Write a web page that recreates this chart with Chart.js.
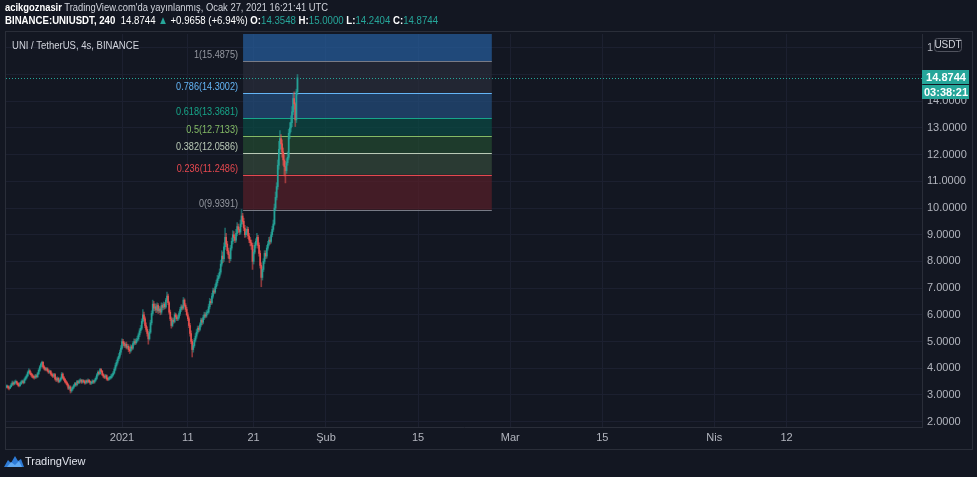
<!DOCTYPE html>
<html><head><meta charset="utf-8">
<script src="https://cdn.jsdelivr.net/npm/chart.js@4.4.1/dist/chart.umd.min.js"></script>
<style>
html,body{margin:0;padding:0;background:#131722;width:977px;height:477px;overflow:hidden;font-family:"Liberation Sans",Arial,sans-serif;}
#c{position:absolute;left:0;top:0;}
.t{position:absolute;white-space:nowrap;color:#d1d4dc;transform-origin:0 0;}
.g{color:#26a69a;}
.w{color:#ffffff;font-weight:bold;}
</style></head><body>
<canvas id="c" width="977" height="477"></canvas>
<div class="t" id="h1" style="left:5px;top:1px;font-size:11.5px;"></div>
<div class="t" id="h2" style="left:5px;top:14px;font-size:11.5px;"></div>
<div class="t" id="title" style="left:12px;top:39px;font-size:11.5px;"></div>
<div class="t" style="left:4px;top:455px;font-size:11px;">
<svg width="20" height="12" viewBox="0 0 20 12" style="vertical-align:-2px"><path d="M0 12 L4 5 L7 8 L11 1 L14 6 L17 4 L20 12 Z" fill="#2e7bd6"/><path d="M3 12 L7 7 L11 10 L15 6 L18 12 Z" fill="#5fa8f0"/></svg><span style="margin-left:1px;color:#e0e3eb">TradingView</span></div>
<script>
// ---- data ----
const chartTitle = 'UNI / TetherUS, 4s, BINANCE';
const author = 'acikgoznasir';
const publishText = "TradingView.com'da yayınlanmış, Ocak 27, 2021 16:21:41 UTC";
const symbolText = 'BINANCE:UNIUSDT, 240';
const changeText = '+0.9658 (+6.94%)';
const countdownText = '03:38:21';
const currencyText = 'USDT';

// candle times: days relative to 2021-01-01 00:00, first candle 2020-12-14 08:00, 4h candles
const candleStartDay = -17 - 2/3;
const candleStepDay = 4/24;
const firstOpen = 3.28;
const closes = [
3.30,3.33,3.28,3.25,3.31,3.38,3.45,3.41,3.47,3.50,3.44,3.39,
3.35,3.42,3.48,3.50,3.46,3.58,3.65,3.72,3.84,3.90,3.81,3.76,
3.70,3.66,3.65,3.71,3.68,3.80,3.92,4.05,4.15,4.22,4.05,4.00,
3.95,3.98,3.90,3.85,3.88,3.78,3.74,3.70,3.76,3.60,3.56,3.62,
3.50,3.55,3.62,3.78,3.65,3.58,3.50,3.45,3.38,3.25,3.30,3.15,
3.22,3.28,3.35,3.42,3.38,3.50,3.46,3.52,3.55,3.48,3.53,3.50,
3.45,3.52,3.49,3.55,3.50,3.44,3.45,3.52,3.48,3.55,3.62,3.75,
3.85,3.80,3.95,3.88,3.76,3.70,3.66,3.72,3.60,3.58,3.63,3.65,
3.70,3.75,3.82,3.96,4.10,4.22,4.35,4.45,4.60,4.75,5.00,4.94,
4.85,4.90,4.78,4.82,4.70,4.65,4.80,4.75,4.92,5.00,4.95,5.05,
5.10,5.25,5.40,5.50,5.75,6.00,5.85,5.60,5.45,5.30,5.10,5.35,
5.70,6.05,6.40,6.25,6.30,6.18,6.35,6.15,6.22,6.10,6.35,6.28,
6.40,6.30,6.55,6.70,6.45,6.10,5.85,5.60,5.80,5.75,6.00,5.92,
5.85,5.90,6.05,6.20,6.30,6.25,6.55,6.35,6.20,6.00,5.85,5.60,
5.30,5.00,4.70,4.85,5.05,5.20,5.35,5.50,5.45,5.62,5.80,5.72,
5.90,6.00,5.95,6.08,6.10,6.30,6.50,6.45,6.70,6.90,6.85,7.05,
7.20,7.35,7.45,7.60,7.90,8.20,8.10,8.55,8.90,8.65,8.40,8.25,
8.10,8.50,8.75,9.00,8.90,8.80,9.05,9.30,9.20,9.10,9.40,9.70,
9.50,9.25,9.00,9.10,9.20,8.95,8.80,8.70,8.60,8.00,8.35,8.60,
8.75,8.90,8.60,8.30,7.85,7.40,7.70,8.00,8.30,8.20,8.50,8.65,
8.80,8.75,9.00,9.20,9.40,10.00,10.40,10.80,11.60,12.20,12.60,12.40,
12.10,11.80,11.55,11.40,11.70,11.90,12.80,13.00,13.20,13.60,14.10,13.90,
13.30,14.3548,14.8744];
const highs = [
3.36,3.38,3.35,3.31,3.36,3.44,3.52,3.49,3.53,3.56,3.52,3.46,
3.44,3.47,3.53,3.56,3.55,3.63,3.70,3.78,3.90,3.98,3.94,3.86,
3.80,3.75,3.72,3.77,3.76,3.85,3.98,4.10,4.20,4.27,4.25,4.10,
4.04,4.03,4.02,3.95,3.93,3.92,3.83,3.79,3.81,3.80,3.66,3.68,
3.66,3.59,3.67,3.84,3.82,3.70,3.62,3.55,3.49,3.42,3.35,3.34,
3.27,3.33,3.40,3.47,3.46,3.55,3.54,3.57,3.61,3.58,3.58,3.57,
3.54,3.56,3.56,3.60,3.58,3.53,3.50,3.57,3.55,3.60,3.68,3.80,
3.90,3.89,4.00,3.99,3.92,3.80,3.75,3.77,3.75,3.65,3.68,3.70,
3.76,3.80,3.88,4.02,4.18,4.30,4.42,4.55,4.68,4.85,5.10,5.08,
5.00,4.96,4.98,4.90,4.88,4.78,4.88,4.86,5.00,5.10,5.08,5.12,
5.20,5.32,5.48,5.60,5.85,6.20,6.10,5.92,5.70,5.55,5.38,5.45,
5.80,6.15,6.55,6.50,6.42,6.40,6.45,6.42,6.32,6.30,6.45,6.42,
6.48,6.46,6.62,6.85,6.78,6.50,6.18,5.92,5.88,5.88,6.08,6.06,
6.00,5.98,6.12,6.28,6.38,6.36,6.65,6.60,6.42,6.28,6.08,5.92,
5.68,5.40,5.08,4.95,5.12,5.30,5.45,5.58,5.58,5.70,5.88,5.86,
5.98,6.10,6.08,6.16,6.20,6.40,6.62,6.58,6.80,7.00,6.98,7.15,
7.30,7.48,7.55,7.72,8.05,8.40,8.35,8.70,9.25,9.05,8.75,8.50,
8.35,8.60,8.88,9.15,9.12,9.00,9.20,9.45,9.40,9.28,9.55,9.94,
9.80,9.62,9.35,9.20,9.30,9.28,9.05,8.90,8.80,8.68,8.45,8.70,
8.85,9.05,8.98,8.70,8.40,7.95,7.80,8.10,8.40,8.40,8.60,8.75,
8.90,8.92,9.10,9.32,9.55,10.15,10.60,10.95,11.80,12.50,12.90,12.75,
12.55,12.25,12.00,11.75,11.85,12.10,12.95,13.20,13.45,13.80,14.30,14.35,
13.95,14.45,15.00];
const lows = [
3.24,3.27,3.22,3.19,3.23,3.29,3.35,3.36,3.38,3.43,3.38,3.33,
3.30,3.32,3.38,3.44,3.41,3.43,3.54,3.60,3.68,3.79,3.77,3.70,
3.65,3.62,3.59,3.61,3.63,3.65,3.76,3.88,4.00,4.08,4.00,3.94,
3.90,3.91,3.86,3.80,3.81,3.73,3.69,3.65,3.66,3.55,3.50,3.52,
3.45,3.46,3.51,3.58,3.60,3.53,3.45,3.40,3.33,3.20,3.21,3.07,
3.10,3.17,3.24,3.31,3.33,3.34,3.41,3.42,3.47,3.43,3.44,3.45,
3.40,3.41,3.44,3.45,3.46,3.39,3.39,3.42,3.43,3.44,3.51,3.58,
3.70,3.75,3.77,3.84,3.72,3.65,3.61,3.62,3.55,3.53,3.54,3.58,
3.60,3.64,3.70,3.78,3.90,4.04,4.15,4.28,4.38,4.52,4.70,4.85,
4.78,4.78,4.72,4.72,4.62,4.55,4.60,4.68,4.70,4.86,4.88,4.90,
4.98,5.04,5.18,5.32,5.44,5.68,5.78,5.52,5.38,5.20,4.90,5.05,
5.30,5.62,5.98,6.15,6.15,6.08,6.10,6.05,6.08,6.00,6.02,6.18,
6.20,6.22,6.25,6.48,6.38,6.02,5.78,5.50,5.55,5.68,5.70,5.85,
5.78,5.78,5.84,5.98,6.12,6.18,6.20,6.30,6.12,5.95,5.78,5.52,
5.20,4.92,4.42,4.60,4.78,4.98,5.12,5.28,5.36,5.40,5.55,5.62,
5.66,5.82,5.88,5.90,6.00,6.05,6.22,6.38,6.40,6.62,6.78,6.80,
6.98,7.10,7.28,7.38,7.52,7.82,7.95,8.00,8.45,8.55,8.30,8.12,
7.95,8.02,8.42,8.65,8.78,8.70,8.72,8.95,9.08,9.00,9.02,9.30,
9.40,9.15,8.90,8.92,9.00,8.85,8.70,8.58,8.45,7.70,7.90,8.28,
8.50,8.65,8.50,8.20,7.75,7.05,7.30,7.62,7.92,8.10,8.12,8.42,
8.58,8.65,8.68,8.92,9.12,9.35,9.90,10.30,10.70,11.45,12.05,12.20,
11.90,11.60,11.20,10.94,11.30,11.60,11.82,12.60,12.85,13.05,13.50,13.70,
13.05,13.20,14.2404];

const xTickDays = [0, 10, 20, 31, 45, 59, 73, 90, 101];
const xTickLabels = ['2021', '11', '21', 'Şub', '15', 'Mar', '15', 'Nis', '12'];
const yTickValues = [2,3,4,5,6,7,8,9,10,11,12,13,14,15,16];

const fibLevels = [0, 0.236, 0.382, 0.5, 0.618, 0.786, 1, 1.618];
const fibPrices = [9.9391, 11.2486, 12.0586, 12.7133, 13.3681, 14.3002, 15.4875, 18.9169];
const fibLineColors = ['#787b86', '#e5484f', '#b9c9b6', '#84bb66', '#17a589', '#64b5f6', '#787b86', '#2962ff'];
const fibFillColors = ['rgba(0,0,0,0)', 'rgba(88,32,40,0.7)', 'rgba(52,74,58,0.7)', 'rgba(36,76,48,0.7)', 'rgba(10,76,68,0.7)', 'rgba(36,78,126,0.7)', 'rgba(42,46,58,0.7)', 'rgba(38,96,160,0.7)'];
const fibStartDay = 18.4;
const fibEndDay = 56.2;

// ---- derived ----
const n = closes.length;
const times = closes.map((_, i) => candleStartDay + i * candleStepDay);
const opens = closes.map((_, i) => i === 0 ? firstOpen : closes[i - 1]);
const bodyColors = closes.map((c, i) => c >= opens[i] ? 'rgba(38,166,154,0.9)' : 'rgba(239,83,80,0.9)');
const wickColors = closes.map((c, i) => c >= opens[i] ? 'rgba(38,166,154,0.55)' : 'rgba(239,83,80,0.55)');
const lastClose = closes[n - 1];

const fmt = v => v.toFixed(4);
const h1 = document.getElementById('h1'), h2 = document.getElementById('h2'), ti = document.getElementById('title');
h1.innerHTML = '<span class="w">' + author + '</span> ' + publishText;
h2.innerHTML = '<span class="w">' + symbolText + '</span>&nbsp; <span style="color:#fff">' + fmt(lastClose) + '</span> <span class="g">▲</span> <span style="color:#fff">' + changeText + '</span> <span class="w">O:</span><span class="g">' + fmt(opens[n-1]) + '</span> <span class="w">H:</span><span class="g">' + fmt(highs[n-1]) + '</span> <span class="w">L:</span><span class="g">' + fmt(lows[n-1]) + '</span> <span class="w">C:</span><span class="g">' + fmt(lastClose) + '</span>';
ti.textContent = chartTitle;
function fitW(el, w) { const r = el.getBoundingClientRect().width; el.style.transform = 'scaleX(' + (w / r) + ')'; }
fitW(h1, 323); fitW(h2, 433); fitW(ti, 127);

const gridColor = '#1c2030';
const borderColor = '#2a2e39';

const decorPlugin = {
  id: 'decor',
  beforeDraw(chart) {
    const c = chart.ctx;
    c.save();
    c.fillStyle = '#131722';
    c.fillRect(0, 0, chart.width, chart.height);
    c.strokeStyle = borderColor;
    c.lineWidth = 1;
    c.strokeRect(5.5, 31.5, 967, 418);
    c.restore();
  },
  beforeDatasetsDraw(chart) {
    const c = chart.ctx, xs = chart.scales.x, ys = chart.scales.y, a = chart.chartArea;
    const x0 = xs.getPixelForValue(fibStartDay), x1 = xs.getPixelForValue(fibEndDay);
    c.save();
    c.beginPath(); c.rect(a.left, a.top, a.right - a.left, a.bottom - a.top); c.clip();
    for (let k = 1; k < fibLevels.length; k++) {
      const yA = ys.getPixelForValue(fibPrices[k - 1]), yB = ys.getPixelForValue(fibPrices[k]);
      c.fillStyle = fibFillColors[k];
      c.fillRect(x0, yB, x1 - x0, yA - yB);
    }
    c.lineWidth = 1;
    c.font = '10.5px "Liberation Sans", Arial, sans-serif';
    c.textAlign = 'right';
    c.textBaseline = 'middle';
    for (let k = 0; k < fibLevels.length; k++) {
      const y = Math.round(ys.getPixelForValue(fibPrices[k])) + 0.5;
      c.strokeStyle = fibLineColors[k];
      c.beginPath(); c.moveTo(x0, y); c.lineTo(x1, y); c.stroke();
      c.fillStyle = fibLineColors[k] === '#787b86' ? '#9598a1' : fibLineColors[k];
      c.save();
      c.translate(x0 - 5, y - 6);
      c.scale(0.87, 1);
      c.fillText(fibLevels[k] + '(' + fibPrices[k].toFixed(4) + ')', 0, 0);
      c.restore();
    }
    // last price dotted line
    const yp = Math.round(ys.getPixelForValue(lastClose)) + 0.5;
    c.strokeStyle = '#26a69a';
    c.setLineDash([1, 2]);
    c.beginPath(); c.moveTo(a.left, yp); c.lineTo(a.right, yp); c.stroke();
    c.restore();
  },
  afterDraw(chart) {
    const c = chart.ctx, ys = chart.scales.y, a = chart.chartArea;
    const yp = Math.round(ys.getPixelForValue(lastClose));
    c.save();
    // hide the axis labels covered by the price / currency labels
    c.fillStyle = '#131722';
    c.fillRect(933, 35, 39, 20);
    c.fillRect(a.right + 1, yp - 12, 49, 6);
    c.font = 'bold 11px "Liberation Sans", Arial, sans-serif';
    c.textAlign = 'center';
    c.textBaseline = 'middle';
    c.fillStyle = '#26a69a';
    c.fillRect(a.right, yp - 8, 47, 14);
    c.fillRect(a.right, yp + 7, 47, 14);
    c.fillStyle = '#ffffff';
    c.fillText(fmt(lastClose), a.right + 24, yp - 0.5);
    c.fillText(countdownText, a.right + 24, yp + 14.5);
    // currency pill
    c.fillStyle = '#131722';
    c.strokeStyle = '#50535e';
    c.beginPath();
    if (c.roundRect) c.roundRect(934.5, 38.5, 27, 13, 3); else c.rect(934.5, 38.5, 27, 13);
    c.fill(); c.stroke();
    c.fillStyle = '#d1d4dc';
    c.font = '10px "Liberation Sans", Arial, sans-serif';
    c.fillText(currencyText, 948, 45.5);
    c.restore();
  }
};

new Chart(document.getElementById('c'), {
  type: 'bar',
  data: {
    datasets: [
      { label: 'wick', data: times.map((t, i) => ({ x: t, y: [lows[i], highs[i]] })), backgroundColor: wickColors, barThickness: 1, grouped: false, order: 2, borderWidth: 0 },
      { label: 'body', data: times.map((t, i) => ({ x: t, y: [opens[i], closes[i]] })), backgroundColor: bodyColors, barThickness: 1, grouped: false, order: 1, borderWidth: 0, minBarLength: 1 }
    ]
  },
  options: {
    responsive: false,
    animation: false,
    events: [],
    layout: { padding: { left: 6, top: 34, right: 4, bottom: 27 } },
    plugins: { legend: { display: false }, tooltip: { enabled: false } },
    scales: {
      x: {
        type: 'linear', min: -17.63, max: 121.58, offset: false,
        grid: { color: gridColor, drawTicks: false, offset: false },
        border: { color: borderColor },
        ticks: { color: '#b2b5be', font: { size: 11, family: '"Liberation Sans", Arial, sans-serif' }, padding: 4, autoSkip: false, maxRotation: 0, callback: (v, i) => xTickLabels[i] },
        afterBuildTicks: s => { s.ticks = xTickDays.map(v => ({ value: v })); },
        afterFit: s => { s.height = 23; }
      },
      y: {
        type: 'linear', position: 'right', min: 1.798, max: 16.517,
        grid: { color: gridColor, drawTicks: false },
        border: { color: borderColor },
        ticks: { color: '#b2b5be', font: { size: 11, family: '"Liberation Sans", Arial, sans-serif' }, padding: 5, callback: v => fmt(v) },
        afterBuildTicks: s => { s.ticks = yTickValues.map(v => ({ value: v })); },
        afterFit: s => { s.width = 51; }
      }
    }
  },
  plugins: [decorPlugin]
});
</script>
</body></html>
